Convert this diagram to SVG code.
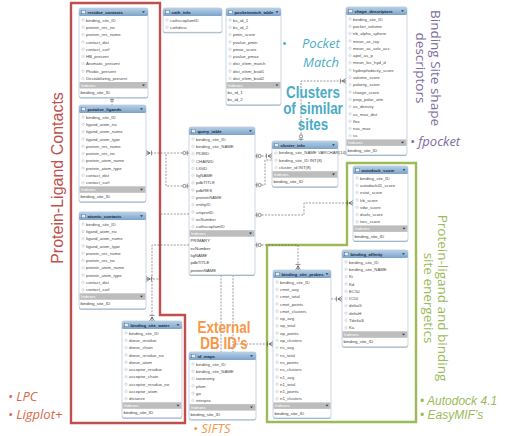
<svg xmlns="http://www.w3.org/2000/svg" width="520" height="436" viewBox="0 0 520 436">
<style>
.bg{fill:#ffffff}
.sh{fill:#9fb6cc}
.box{fill:#ffffff;stroke:#a9bccf;stroke-width:.6}
.hd{fill:url(#hg)}
.ico{fill:#e3ecf5;stroke:#3c5a78;stroke-width:.4}
.tri{fill:#2c3e50}
.ht{font-family:"Liberation Sans",Arial,sans-serif;font-size:4.3px;font-weight:bold;fill:#1d2c3c}
.rt{font-family:"Liberation Sans",Arial,sans-serif;font-size:4.3px;fill:#4a4a4a}
.ib{fill:#bdbdbd}
.it{font-family:"Liberation Sans",Arial,sans-serif;font-size:4.2px;fill:#ffffff}
.xt{font-family:"Liberation Sans",Arial,sans-serif;font-size:4.3px;fill:#3a3a3a}
.cn{fill:none;stroke:#555;stroke-width:.6;stroke-dasharray:2 1.3}
.cnm{fill:none;stroke:#555;stroke-width:.6;stroke-dasharray:2 1.3;marker-start:url(#one);marker-end:url(#many)}
.cne{fill:none;stroke:#555;stroke-width:.6;stroke-dasharray:2 1.3;marker-end:url(#many)}
.cns{fill:none;stroke:#555;stroke-width:.6;stroke-dasharray:2 1.3;marker-start:url(#one)}
.dm{fill:url(#dmp)}
.lab{font-family:"Open Sans","Liberation Sans",sans-serif;font-size:13px;font-style:italic}
.lab2{font-family:"Liberation Sans",Arial,sans-serif;font-size:12px;font-style:italic}
.big{font-family:"Liberation Sans",Arial,sans-serif;font-size:16px;font-weight:bold}
</style>
<defs>
<linearGradient id="hg" x1="0" y1="0" x2="0" y2="1">
<stop offset="0" stop-color="#b8d0e6"/>
<stop offset="1" stop-color="#7ca3ca"/>
</linearGradient>
<pattern id="dmp" patternUnits="userSpaceOnUse" x="0" y="0" width="8" height="7.3">
<path d="M4,3.3 L5.4,4.7 L4,6.1 L2.6,4.7Z" fill="#fff" stroke="#7f93a8" stroke-width=".4"/>
</pattern>
<marker id="one" markerUnits="userSpaceOnUse" viewBox="-8 -8 16 16" markerWidth="16" markerHeight="16" refX="0" refY="0" orient="auto" overflow="visible">
<path d="M1.8,-2.5V2.5" stroke="#444" stroke-width=".6" fill="none"/>
<circle cx="4.6" cy="0" r="1.6" fill="#fff" stroke="#444" stroke-width=".6"/>
</marker>
<marker id="many" markerUnits="userSpaceOnUse" viewBox="-8 -8 16 16" markerWidth="16" markerHeight="16" refX="0" refY="0" orient="auto" overflow="visible">
<path d="M0,-2.5L-4,0L0,2.5M0,0H-4M-5.6,-2.5V2.5" stroke="#444" stroke-width=".6" fill="none"/>
</marker>
</defs>
<rect class="bg" x="0" y="0" width="520" height="436"/>

<!-- frames -->
<path d="M71,3 H160 V315 H185 V423 H71 Z" fill="none" stroke="#c0504d" stroke-width="2.4"/>
<path d="M267,245 H347 V163 H416 V422 H267 Z" fill="none" stroke="#9bbb59" stroke-width="2.4"/>

<!-- connectors -->
<g id="connectors">
<path class="cn" d="M112,97.5 V105"/>
<path d="M110,99.5h4M110,101h4" stroke="#444" stroke-width=".5"/>
<path class="cnm" d="M189,153 H146"/>
<path class="cns" d="M189,186 H166 V153"/>
<path class="cne" d="M189,214 H160 V279 H146"/>
<path class="cne" d="M189,245 H152 V321"/>
<path class="cnm" d="M255,156 H272"/>
<path class="cns" d="M255,185 H265 V160 H272"/>
<path class="cnm" d="M255,215 H304 V203 H353"/>
<path class="cnm" d="M255,245 H298 V270"/>
<path class="cnm" d="M301,141 V81 H346"/>
<path class="cne" d="M331,299 H342"/>
<path class="cn" d="M221,275 V352"/>
<path class="cn" d="M233,275 V352"/>
<path class="cne" d="M233,344 H273"/>
</g>

<!-- residue_contacts -->
<g id="residue_contacts" transform="translate(79,8)">
<rect class="sh" x="0" y="1" width="69" height="89.5" rx="2"/>
<rect class="box" x="0" y="0" width="69" height="89.5" rx="2"/>
<rect class="hd" x="0" y="0" width="69" height="8" rx="1.5"/>
<rect class="ico" x="2.5" y="2.2" width="4" height="3.6"/>
<text class="ht" x="8.5" y="5.6">residue_contacts</text>
<path class="tri" d="M63,3.3h3l-1.5,1.8z"/>
<rect class="dm" x="1.5" y="8" width="5" height="65.7"/>
<text class="rt" x="7" y="13.6"><tspan x="7">binding_site_ID</tspan><tspan x="7" dy="7.3">protein_res_no</tspan><tspan x="7" dy="7.3">protein_res_name</tspan><tspan x="7" dy="7.3">contact_dist</tspan><tspan x="7" dy="7.3">contact_surf</tspan><tspan x="7" dy="7.3">HB_present</tspan><tspan x="7" dy="7.3">Aromatic_present</tspan><tspan x="7" dy="7.3">Phobic_present</tspan><tspan x="7" dy="7.3">Destabilizing_present</tspan></text>
<rect class="ib" x=".5" y="74" width="68" height="6.5"/>
<text class="it" x="2" y="78.6">Indexes</text>
<path class="tri" d="M63,76.4h3l-1.5,1.8z"/>
<text class="xt" x="1.5" y="86.1">binding_site_ID</text>
</g>

<!-- cath_info -->
<g id="cath_info" transform="translate(163,8)">
<rect class="sh" x="0" y="1" width="59" height="24.3" rx="2"/>
<rect class="box" x="0" y="0" width="59" height="24.3" rx="2"/>
<rect class="hd" x="0" y="0" width="59" height="8" rx="1.5"/>
<rect class="ico" x="2.5" y="2.2" width="4" height="3.6"/>
<text class="ht" x="8.5" y="5.6">cath_info</text>
<rect class="dm" x="1.5" y="8" width="5" height="14.6"/>
<text class="rt" x="7" y="13.6"><tspan x="7">cathscopfamID</tspan><tspan x="7" dy="7.3">cathdesc</tspan></text>
</g>

<!-- pocketmatch_table -->
<g id="pocketmatch_table" transform="translate(226,8)">
<rect class="sh" x="0" y="1" width="55" height="96.8" rx="2"/>
<rect class="box" x="0" y="0" width="55" height="96.8" rx="2"/>
<rect class="hd" x="0" y="0" width="55" height="8" rx="1.5"/>
<rect class="ico" x="2.5" y="2.2" width="4" height="3.6"/>
<text class="ht" x="8.5" y="5.6">pocketmatch_table</text>
<path class="tri" d="M49.5,3.3h3l-1.5,1.8z"/>
<rect class="dm" x="1.5" y="8" width="5" height="65.7"/>
<text class="rt" x="7" y="13.6"><tspan x="7">bs_id_1</tspan><tspan x="7" dy="7.3">bs_id_2</tspan><tspan x="7" dy="7.3">pmin_score</tspan><tspan x="7" dy="7.3">pvalue_pmin</tspan><tspan x="7" dy="7.3">pmax_score</tspan><tspan x="7" dy="7.3">pvalue_pmax</tspan><tspan x="7" dy="7.3">dist_elem_match</tspan><tspan x="7" dy="7.3">dist_elem_bsid1</tspan><tspan x="7" dy="7.3">dist_elem_bsid2</tspan></text>
<rect class="ib" x=".5" y="74" width="54" height="6.5"/>
<text class="it" x="2" y="78.6">Indexes</text>
<path class="tri" d="M49.5,76.4h3l-1.5,1.8z"/>
<text class="xt" x="1.5" y="86.1"><tspan x="1.5">bs_id_1</tspan><tspan x="1.5" dy="7.3">bs_id_2</tspan></text>
</g>

<!-- shape_descriptors -->
<g id="shape_descriptors" transform="translate(346,7)">
<rect class="sh" x="0" y="1" width="61" height="147.9" rx="2"/>
<rect class="box" x="0" y="0" width="61" height="147.9" rx="2"/>
<rect class="hd" x="0" y="0" width="61" height="8" rx="1.5"/>
<rect class="ico" x="2.5" y="2.2" width="4" height="3.6"/>
<text class="ht" x="8.5" y="5.6">shape_descriptors</text>
<path class="tri" d="M55,3.3h3l-1.5,1.8z"/>
<rect class="dm" x="1.5" y="8" width="5" height="124.1"/>
<text class="rt" x="7" y="13.6"><tspan x="7">binding_site_ID</tspan><tspan x="7" dy="7.3">pocket_volume</tspan><tspan x="7" dy="7.3">nb_alpha_sphere</tspan><tspan x="7" dy="7.3">mean_as_ray</tspan><tspan x="7" dy="7.3">mean_as_solv_acc</tspan><tspan x="7" dy="7.3">apol_as_p</tspan><tspan x="7" dy="7.3">mean_loc_hyd_d</tspan><tspan x="7" dy="7.3">hydrophobicity_score</tspan><tspan x="7" dy="7.3">volume_score</tspan><tspan x="7" dy="7.3">polarity_score</tspan><tspan x="7" dy="7.3">charge_score</tspan><tspan x="7" dy="7.3">prop_polar_atm</tspan><tspan x="7" dy="7.3">as_density</tspan><tspan x="7" dy="7.3">as_max_dist</tspan><tspan x="7" dy="7.3">flex</tspan><tspan x="7" dy="7.3">nas_max</tspan><tspan x="7" dy="7.3">ss</tspan></text>
<rect class="ib" x=".5" y="132.4" width="60" height="6.5"/>
<text class="it" x="2" y="137">Indexes</text>
<path class="tri" d="M55,134.8h3l-1.5,1.8z"/>
<text class="xt" x="1.5" y="144.5">binding_site_ID</text>
</g>

<!-- putative_ligands -->
<g id="putative_ligands" transform="translate(79,105)">
<rect class="sh" x="0" y="1" width="67" height="96.8" rx="2"/>
<rect class="box" x="0" y="0" width="67" height="96.8" rx="2"/>
<rect class="hd" x="0" y="0" width="67" height="8" rx="1.5"/>
<rect class="ico" x="2.5" y="2.2" width="4" height="3.6"/>
<text class="ht" x="8.5" y="5.6">putative_ligands</text>
<path class="tri" d="M61,3.3h3l-1.5,1.8z"/>
<rect class="dm" x="1.5" y="8" width="5" height="73"/>
<text class="rt" x="7" y="13.6"><tspan x="7">binding_site_ID</tspan><tspan x="7" dy="7.3">ligand_atom_no</tspan><tspan x="7" dy="7.3">ligand_atom_name</tspan><tspan x="7" dy="7.3">ligand_atom_type</tspan><tspan x="7" dy="7.3">protein_res_name</tspan><tspan x="7" dy="7.3">protein_res_no</tspan><tspan x="7" dy="7.3">protein_atom_name</tspan><tspan x="7" dy="7.3">protein_atom_type</tspan><tspan x="7" dy="7.3">contact_dist</tspan><tspan x="7" dy="7.3">contact_surf</tspan></text>
<rect class="ib" x=".5" y="81.3" width="66" height="6.5"/>
<text class="it" x="2" y="85.9">Indexes</text>
<path class="tri" d="M61,83.7h3l-1.5,1.8z"/>
<text class="xt" x="1.5" y="93.4">binding_site_ID</text>
</g>

<!-- atomic_contacts -->
<g id="atomic_contacts" transform="translate(79,212)">
<rect class="sh" x="0" y="1" width="67" height="96.8" rx="2"/>
<rect class="box" x="0" y="0" width="67" height="96.8" rx="2"/>
<rect class="hd" x="0" y="0" width="67" height="8" rx="1.5"/>
<rect class="ico" x="2.5" y="2.2" width="4" height="3.6"/>
<text class="ht" x="8.5" y="5.6">atomic_contacts</text>
<path class="tri" d="M61,3.3h3l-1.5,1.8z"/>
<rect class="dm" x="1.5" y="8" width="5" height="73"/>
<text class="rt" x="7" y="13.6"><tspan x="7">binding_site_ID</tspan><tspan x="7" dy="7.3">ligand_atom_no</tspan><tspan x="7" dy="7.3">ligand_atom_name</tspan><tspan x="7" dy="7.3">ligand_atom_type</tspan><tspan x="7" dy="7.3">protein_res_name</tspan><tspan x="7" dy="7.3">protein_res_no</tspan><tspan x="7" dy="7.3">protein_atom_name</tspan><tspan x="7" dy="7.3">protein_atom_type</tspan><tspan x="7" dy="7.3">contact_dist</tspan><tspan x="7" dy="7.3">contact_surf</tspan></text>
<rect class="ib" x=".5" y="81.3" width="66" height="6.5"/>
<text class="it" x="2" y="85.9">Indexes</text>
<path class="tri" d="M61,83.7h3l-1.5,1.8z"/>
<text class="xt" x="1.5" y="93.4">binding_site_ID</text>
</g>

<!-- binding_site_water -->
<g id="binding_site_water" transform="translate(122,321)">
<rect class="sh" x="0" y="1" width="60" height="96.8" rx="2"/>
<rect class="box" x="0" y="0" width="60" height="96.8" rx="2"/>
<rect class="hd" x="0" y="0" width="60" height="8" rx="1.5"/>
<rect class="ico" x="2.5" y="2.2" width="4" height="3.6"/>
<text class="ht" x="8.5" y="5.6">binding_site_water</text>
<path class="tri" d="M54.5,3.3h3l-1.5,1.8z"/>
<rect class="dm" x="1.5" y="8" width="5" height="73"/>
<text class="rt" x="7" y="13.6"><tspan x="7">binding_site_ID</tspan><tspan x="7" dy="7.3">donor_residue</tspan><tspan x="7" dy="7.3">donor_chain</tspan><tspan x="7" dy="7.3">donor_residue_no</tspan><tspan x="7" dy="7.3">donor_atom</tspan><tspan x="7" dy="7.3">acceptor_residue</tspan><tspan x="7" dy="7.3">acceptor_chain</tspan><tspan x="7" dy="7.3">acceptor_residue_no</tspan><tspan x="7" dy="7.3">acceptor_atom</tspan><tspan x="7" dy="7.3">distance</tspan></text>
<rect class="ib" x=".5" y="81.3" width="59" height="6.5"/>
<text class="it" x="2" y="85.9">Indexes</text>
<path class="tri" d="M54.5,83.7h3l-1.5,1.8z"/>
<text class="xt" x="1.5" y="93.4">binding_site_ID</text>
</g>

<!-- query_table -->
<g id="query_table" transform="translate(189,127)">
<rect class="sh" x="0" y="1" width="66" height="147.9" rx="2"/>
<rect class="box" x="0" y="0" width="66" height="147.9" rx="2"/>
<rect class="hd" x="0" y="0" width="66" height="8" rx="1.5"/>
<rect class="ico" x="2.5" y="2.2" width="4" height="3.6"/>
<text class="ht" x="8.5" y="5.6">query_table</text>
<path class="tri" d="M60,3.3h3l-1.5,1.8z"/>
<rect class="dm" x="1.5" y="8" width="5" height="94.9"/>
<text class="rt" x="7" y="13.6"><tspan x="7">binding_site_ID</tspan><tspan x="7" dy="7.3">binding_site_NAME</tspan><tspan x="7" dy="7.3">PDBID</tspan><tspan x="7" dy="7.3">CHAINID</tspan><tspan x="7" dy="7.3">LIGID</tspan><tspan x="7" dy="7.3">ligNAME</tspan><tspan x="7" dy="7.3">pdbTITLE</tspan><tspan x="7" dy="7.3">pdbRES</tspan><tspan x="7" dy="7.3">proteinNAME</tspan><tspan x="7" dy="7.3">entityID</tspan><tspan x="7" dy="7.3">uniprotID</tspan><tspan x="7" dy="7.3">ecNumber</tspan><tspan x="7" dy="7.3">cathscopfamID</tspan></text>
<rect class="ib" x=".5" y="103.2" width="65" height="6.5"/>
<text class="it" x="2" y="107.8">Indexes</text>
<path class="tri" d="M60,105.6h3l-1.5,1.8z"/>
<text class="xt" x="1.5" y="115.3"><tspan x="1.5">PRIMARY</tspan><tspan x="1.5" dy="7.3">ecNumber</tspan><tspan x="1.5" dy="7.3">ligNAME</tspan><tspan x="1.5" dy="7.3">pdbTITLE</tspan><tspan x="1.5" dy="7.3">proteinNAME</tspan></text>
</g>

<!-- cluster_info -->
<g id="cluster_info" transform="translate(272,141)">
<rect class="sh" x="0" y="1" width="66" height="45.7" rx="2"/>
<rect class="box" x="0" y="0" width="66" height="45.7" rx="2"/>
<rect class="hd" x="0" y="0" width="66" height="8" rx="1.5"/>
<rect class="ico" x="2.5" y="2.2" width="4" height="3.6"/>
<text class="ht" x="8.5" y="5.6">cluster_info</text>
<path class="tri" d="M60,3.3h3l-1.5,1.8z"/>
<rect class="dm" x="1.5" y="8" width="5" height="21.9"/>
<text class="rt" x="7" y="13.4" font-size="3.6"><tspan x="7">binding_site_NAME VARCHAR(14)</tspan><tspan x="7" dy="7.3">binding_site_ID INT(8)</tspan><tspan x="7" dy="7.3">cluster_id INT(8)</tspan></text>
<rect class="ib" x=".5" y="30.2" width="65" height="6.5"/>
<text class="it" x="2" y="34.8">Indexes</text>
<path class="tri" d="M60,32.6h3l-1.5,1.8z"/>
<text class="xt" x="1.5" y="42.3">binding_site_ID</text>
</g>

<!-- autodock_score -->
<g id="autodock_score" transform="translate(353,166)">
<rect class="sh" x="0" y="1" width="55" height="74.9" rx="2"/>
<rect class="box" x="0" y="0" width="55" height="74.9" rx="2"/>
<rect class="hd" x="0" y="0" width="55" height="8" rx="1.5"/>
<rect class="ico" x="2.5" y="2.2" width="4" height="3.6"/>
<text class="ht" x="8.5" y="5.6">autodock_score</text>
<path class="tri" d="M49.5,3.3h3l-1.5,1.8z"/>
<rect class="dm" x="1.5" y="8" width="5" height="51.1"/>
<text class="rt" x="7" y="13.6"><tspan x="7">binding_site_ID</tspan><tspan x="7" dy="7.3">autodock41_score</tspan><tspan x="7" dy="7.3">estat_score</tspan><tspan x="7" dy="7.3">hb_score</tspan><tspan x="7" dy="7.3">vdw_score</tspan><tspan x="7" dy="7.3">dsolv_score</tspan><tspan x="7" dy="7.3">tors_score</tspan></text>
<rect class="ib" x=".5" y="59.4" width="54" height="6.5"/>
<text class="it" x="2" y="64">Indexes</text>
<path class="tri" d="M49.5,61.8h3l-1.5,1.8z"/>
<text class="xt" x="1.5" y="71.5">binding_site_ID</text>
</g>

<!-- binding_site_probes -->
<g id="binding_site_probes" transform="translate(273,270)">
<rect class="sh" x="0" y="1" width="58" height="147.9" rx="2"/>
<rect class="box" x="0" y="0" width="58" height="147.9" rx="2"/>
<rect class="hd" x="0" y="0" width="58" height="8" rx="1.5"/>
<rect class="ico" x="2.5" y="2.2" width="4" height="3.6"/>
<text class="ht" x="8.5" y="5.6">binding_site_probes</text>
<path class="tri" d="M52.5,3.3h3l-1.5,1.8z"/>
<rect class="dm" x="1.5" y="8" width="5" height="124.1"/>
<text class="rt" x="7" y="13.6"><tspan x="7">binding_site_ID</tspan><tspan x="7" dy="7.3">cmet_avg</tspan><tspan x="7" dy="7.3">cmet_total</tspan><tspan x="7" dy="7.3">cmet_points</tspan><tspan x="7" dy="7.3">cmet_clusters</tspan><tspan x="7" dy="7.3">op_avg</tspan><tspan x="7" dy="7.3">op_total</tspan><tspan x="7" dy="7.3">op_points</tspan><tspan x="7" dy="7.3">op_clusters</tspan><tspan x="7" dy="7.3">ns_avg</tspan><tspan x="7" dy="7.3">ns_total</tspan><tspan x="7" dy="7.3">ns_points</tspan><tspan x="7" dy="7.3">ns_clusters</tspan><tspan x="7" dy="7.3">n1_avg</tspan><tspan x="7" dy="7.3">n1_total</tspan><tspan x="7" dy="7.3">n1_points</tspan><tspan x="7" dy="7.3">n1_clusters</tspan></text>
<rect class="ib" x=".5" y="132.4" width="57" height="6.5"/>
<text class="it" x="2" y="137">Indexes</text>
<path class="tri" d="M52.5,134.8h3l-1.5,1.8z"/>
<text class="xt" x="1.5" y="144.5">binding_site_ID</text>
</g>

<!-- binding_affinity -->
<g id="binding_affinity" transform="translate(342,250)">
<rect class="sh" x="0" y="1" width="66" height="96.8" rx="2"/>
<rect class="box" x="0" y="0" width="66" height="96.8" rx="2"/>
<rect class="hd" x="0" y="0" width="66" height="8" rx="1.5"/>
<rect class="ico" x="2.5" y="2.2" width="4" height="3.6"/>
<text class="ht" x="8.5" y="5.6">binding_affinity</text>
<path class="tri" d="M60,3.3h3l-1.5,1.8z"/>
<rect class="dm" x="1.5" y="8" width="5" height="73"/>
<text class="rt" x="7" y="13.6"><tspan x="7">binding_site_ID</tspan><tspan x="7" dy="7.3">binding_site_NAME</tspan><tspan x="7" dy="7.3">Ki</tspan><tspan x="7" dy="7.3">Kd</tspan><tspan x="7" dy="7.3">EC50</tspan><tspan x="7" dy="7.3">IC50</tspan><tspan x="7" dy="7.3">deltaG</tspan><tspan x="7" dy="7.3">deltaH</tspan><tspan x="7" dy="7.3">TdeltaS</tspan><tspan x="7" dy="7.3">Ka</tspan></text>
<rect class="ib" x=".5" y="81.3" width="65" height="6.5"/>
<text class="it" x="2" y="85.9">Indexes</text>
<path class="tri" d="M60,83.7h3l-1.5,1.8z"/>
<text class="xt" x="1.5" y="93.4">binding_site_ID</text>
</g>

<!-- id_maps -->
<g id="id_maps" transform="translate(189,352)">
<rect class="sh" x="0" y="1" width="67" height="67.6" rx="2"/>
<rect class="box" x="0" y="0" width="67" height="67.6" rx="2"/>
<rect class="hd" x="0" y="0" width="67" height="8" rx="1.5"/>
<rect class="ico" x="2.5" y="2.2" width="4" height="3.6"/>
<text class="ht" x="8.5" y="5.6">id_maps</text>
<path class="tri" d="M61,3.3h3l-1.5,1.8z"/>
<rect class="dm" x="1.5" y="8" width="5" height="43.8"/>
<text class="rt" x="7" y="13.6"><tspan x="7">binding_site_ID</tspan><tspan x="7" dy="7.3">binding_site_NAME</tspan><tspan x="7" dy="7.3">taxonomy</tspan><tspan x="7" dy="7.3">pfam</tspan><tspan x="7" dy="7.3">go</tspan><tspan x="7" dy="7.3">interpro</tspan></text>
<rect class="ib" x=".5" y="52.1" width="66" height="6.5"/>
<text class="it" x="2" y="56.7">Indexes</text>
<path class="tri" d="M61,54.5h3l-1.5,1.8z"/>
<text class="xt" x="1.5" y="64.2">binding_site_ID</text>
</g>

<!-- annotations -->
<g id="labels">
<text transform="translate(63,178) rotate(-90)" text-anchor="middle" font-family="Liberation Sans, Arial, sans-serif" font-size="16" fill="#c0504d">Protein-Ligand Contacts</text>
<text class="lab" x="8" y="401" fill="#d9694a">•  LPC</text>
<text class="lab" x="8" y="419" fill="#d9694a">•  Ligplot+</text>

<text class="lab" x="282" y="48" fill="#4bacc6"><tspan font-style="normal">•</tspan></text>
<text class="lab" x="302" y="48" fill="#4bacc6">Pocket</text>
<text class="lab" x="303" y="67" fill="#4bacc6">Match</text>

<g transform="translate(313,0) scale(0.84,1)" class="big" fill="#4bacc6" text-anchor="middle">
<text x="0" y="98">Clusters</text>
<text x="0" y="114">of similar</text>
<text x="0" y="130">sites</text>
</g>

<g font-family="Open Sans, Liberation Sans, sans-serif" font-size="13.5" fill="#7e6ca0" text-anchor="middle">
<text transform="translate(431,68) rotate(90)">Binding Site shape</text>
<text transform="translate(416,68) rotate(90)">descriptors</text>
</g>
<text class="lab" x="410" y="146" fill="#7e6ca0">•  fpocket</text>

<g font-family="Open Sans, Liberation Sans, sans-serif" font-size="13.5" fill="#9bbb59" text-anchor="middle">
<text transform="translate(438,298) rotate(90)">Protein-ligand and binding</text>
<text transform="translate(424,298) rotate(90)">site energetics</text>
</g>
<text class="lab2" x="420" y="405" fill="#9bbb59">•   Autodock 4.1</text>
<text class="lab2" x="420" y="419" fill="#9bbb59">•   EasyMIF’s</text>

<g transform="translate(224,0) scale(0.84,1)" class="big" fill="#f79646" text-anchor="middle">
<text x="0" y="333">External</text>
<text x="0" y="349">DB ID’s</text>
</g>
<text class="lab" x="193" y="433" fill="#f79646">•  SIFTS</text>
</g>
</svg>
